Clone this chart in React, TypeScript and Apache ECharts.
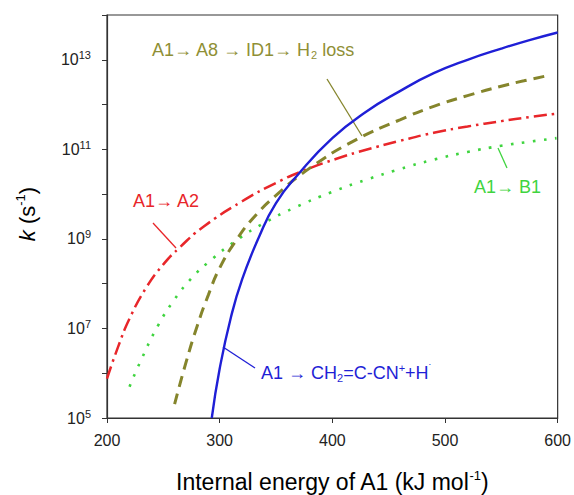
import React, { useEffect, useRef } from "react";
import * as echarts from "echarts";

// Energies (kJ/mol) and log10(k / s^-1)
const blueE = [293, 300, 310, 320, 335, 350, 370, 400, 430, 460, 490, 520, 550, 575, 600];
const blueLogK = [5.0, 6.10, 7.25, 8.10, 9.05, 9.80, 10.45, 11.25, 11.84, 12.30, 12.70, 13.0, 13.25, 13.44, 13.61];

const oliveE = [260, 270, 280, 290, 300, 315, 330, 350, 380, 420, 460, 490, 520, 550, 570, 590];
const oliveLogK = [5.31, 6.23, 7.05, 7.75, 8.35, 8.98, 9.47, 9.97, 10.58, 11.20, 11.66, 11.96, 12.20, 12.41, 12.53, 12.64];

const redE = [200, 210, 220, 235, 250, 265, 285, 320, 350, 375, 405, 430, 460, 490, 520, 550, 575, 600];
const redLogK = [5.88, 6.60, 7.22, 7.92, 8.43, 8.82, 9.26, 9.84, 10.25, 10.53, 10.80, 10.99, 11.19, 11.37, 11.51, 11.63, 11.72, 11.80];

const greenE = [220, 230, 245, 260, 275, 290, 315, 340, 365, 400, 430, 460, 490, 520, 550, 575, 599];
const greenLogK = [5.70, 6.28, 7.05, 7.65, 8.12, 8.48, 8.97, 9.36, 9.68, 10.05, 10.32, 10.56, 10.77, 10.94, 11.08, 11.17, 11.25];

const xTicks = [200, 300, 400, 500, 600];
const yLabelExponents = [5, 7, 9, 11, 13];

const pair = (xs: number[], ys: number[]) => xs.map((x, i) => [x, ys[i]]);

const BLUE = "#1f1fd6";
const OLIVE = "#85852c";
const OLIVE_TEXT = "#8f8f35";
const RED = "#e8262a";
const GREEN = "#3fd43f";
const AXIS = "#333";
const TEXT = "#222";

export default function App() {
  const ref = useRef<HTMLDivElement>(null);
  useEffect(() => {
    document.body.style.margin = "0";
    if (!ref.current) return;
    const chart = echarts.init(ref.current, undefined, { renderer: "svg" });
    const font = "'Liberation Sans', Arial, sans-serif";
    const annot = (x: number, y: number, text: string, color: string) => ({
      type: "text",
      x,
      y,
      style: {
        text,
        fill: color,
        verticalAlign: "middle",
        rich: {
          n: { fontSize: 18, color, fontFamily: font, lineHeight: 22 },
          s: { fontSize: 11, color, fontFamily: font, verticalAlign: "top", lineHeight: 12 },
          d: { fontSize: 11, color, fontFamily: font, padding: [9, 0, 0, 0] },
        },
      },
    });
    const line = (x1: number, y1: number, x2: number, y2: number, color: string) => ({
      type: "line",
      shape: { x1, y1, x2, y2 },
      style: { stroke: color, lineWidth: 1.3 },
    });
    const seriesBase = {
      type: "line",
      smooth: 0.5,
      showSymbol: false,
    };

    chart.setOption({
      animation: false,
      grid: {
        left: 107,
        right: 16,
        top: 15,
        bottom: 77,
        show: true,
        borderColor: AXIS,
        borderWidth: 1.2,
      },
      xAxis: {
        type: "value",
        min: 200,
        max: 600,
        interval: 100,
        axisLine: { show: true, lineStyle: { color: AXIS, width: 1.2 } },
        axisTick: { show: true, length: 5, lineStyle: { color: AXIS } },
        splitLine: { show: false },
        axisLabel: {
          color: TEXT,
          fontSize: 16,
          fontFamily: font,
          margin: 14,
          formatter: (v: number) => (xTicks.includes(v) ? String(v) : ""),
        },
      },
      yAxis: {
        type: "value",
        min: 5,
        max: 14,
        interval: 1,
        axisLine: { show: true, lineStyle: { color: AXIS, width: 1.2 } },
        axisTick: { show: true, length: 5, lineStyle: { color: AXIS } },
        splitLine: { show: false },
        axisLabel: {
          margin: 16,
          formatter: (v: number) =>
            yLabelExponents.includes(v) ? `{b|10}{s|${v}}` : "",
          rich: {
            b: { fontSize: 16, color: TEXT, fontFamily: font, lineHeight: 20 },
            s: { fontSize: 11, color: TEXT, fontFamily: font, verticalAlign: "top", lineHeight: 14 },
          },
        },
      },
      series: [
        {
          ...seriesBase,
          data: pair(redE, redLogK),
          lineStyle: { color: RED, width: 2.5, type: [13, 5, 2.5, 5] },
        },
        {
          ...seriesBase,
          data: pair(greenE, greenLogK),
          lineStyle: { color: GREEN, width: 2.6, type: [2.6, 8.5] },
        },
        {
          ...seriesBase,
          data: pair(oliveE, oliveLogK),
          lineStyle: { color: OLIVE, width: 3, type: [11, 7] },
        },
        {
          ...seriesBase,
          data: pair(blueE, blueLogK),
          lineStyle: { color: BLUE, width: 2.4 },
        },
      ],
      graphic: [
        annot(152, 50, "{n|A1→ A8 → ID1→ H}{d|2}{n| loss}", OLIVE_TEXT),
        annot(133, 201, "{n|A1→ A2}", RED),
        annot(474, 187, "{n|A1→ B1}", GREEN),
        annot(261, 373, "{n|A1 → CH}{d|2}{n|=C-CN}{s|+}{n|+H}{s|˙}", BLUE),
        line(327, 79, 362, 136, OLIVE),
        line(153, 223, 176, 248, RED),
        line(498, 148, 507, 168, GREEN),
        line(223, 347, 255, 368, BLUE),
        {
          type: "text",
          x: 332,
          y: 482,
          style: {
            text: "{n|Internal energy of A1 (kJ mol}{s|-1}{n|)}",
            align: "center",
            verticalAlign: "middle",
            rich: {
              n: { fontSize: 23, color: TEXT, fontFamily: font, lineHeight: 26 },
              s: { fontSize: 13, color: TEXT, fontFamily: font, verticalAlign: "top", lineHeight: 14 },
            },
          },
        },
        {
          type: "text",
          x: 27,
          y: 214,
          rotation: Math.PI / 2,
          style: {
            text: "{i|k}{n| (s}{s|-1}{n|)}",
            align: "center",
            verticalAlign: "middle",
            rich: {
              i: { fontSize: 22, color: TEXT, fontFamily: font, fontStyle: "italic", lineHeight: 26 },
              n: { fontSize: 22, color: TEXT, fontFamily: font, lineHeight: 26 },
              s: { fontSize: 13, color: TEXT, fontFamily: font, verticalAlign: "top", lineHeight: 14 },
            },
          },
        },
      ],
    });
    return () => chart.dispose();
  }, []);
  return <div ref={ref} style={{ width: 574, height: 495 }} />;
}
